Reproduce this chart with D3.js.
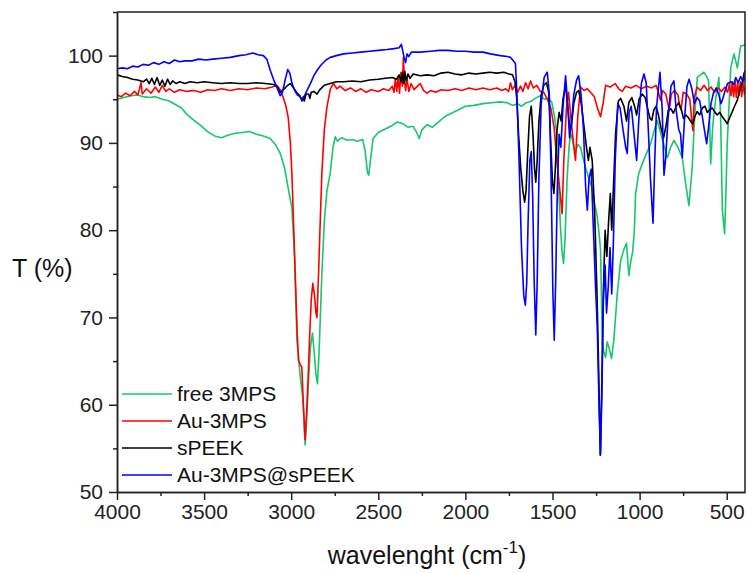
<!DOCTYPE html>
<html>
<head>
<meta charset="utf-8">
<script src="https://cdn.jsdelivr.net/npm/d3@7"></script>
<style>
  body { margin: 0; background: #fff; }
  svg { display: block; font-family: "Liberation Sans", Arial, sans-serif; }
  .axis path, .axis line { stroke: #222; stroke-width: 1.5; }
  .axis text { fill: #222; font-size: 21px; }
</style>
</head>
<body>
<svg id="chart" width="748" height="573"></svg>
<script>
// FTIR spectra, [wavenumber (cm-1), T (%)]
var free3mps = [[4000,95.0],[3960,95.2],[3920,95.4],[3880,95.5],[3850,95.3],[3810,95.2],[3780,95.3],[3740,95.0],[3700,94.8],[3665,94.4],[3630,94.0],[3600,93.3],[3560,92.6],[3520,92.0],[3480,91.3],[3440,90.8],[3400,90.6],[3360,90.9],[3320,91.1],[3280,91.2],[3240,91.3],[3200,91.0],[3160,90.8],[3121,90.5],[3090,89.8],[3063,88.8],[3040,87.3],[3025,85.7],[3010,84.0],[2996,82.6],[2981,76.9],[2967,67.4],[2948,63.2],[2935,61.0],[2929,59.0],[2920,55.4],[2912,58],[2900,63],[2890,66.5],[2878,68.2],[2868,66],[2858,63.5],[2849,62.4],[2840,66],[2824,75],[2810,81],[2795,84.5],[2776,86.5],[2760,89.5],[2747,90.7],[2735,90.2],[2710,90.6],[2680,90.3],[2650,90.4],[2620,90.2],[2590,90.4],[2575,89],[2562,86.6],[2555,86.3],[2545,88],[2530,90.5],[2500,91.2],[2460,91.6],[2420,92.0],[2390,92.4],[2360,92.2],[2330,91.8],[2300,91.9],[2280,91.2],[2265,90.5],[2250,91.5],[2220,92.1],[2190,91.8],[2160,92.3],[2120,93.0],[2080,93.4],[2040,93.8],[2000,94.2],[1950,94.3],[1900,94.5],[1850,94.6],[1800,94.7],[1760,94.6],[1730,94.3],[1700,94.5],[1680,94.2],[1650,94.6],[1620,94.8],[1600,95.1],[1570,95.4],[1545,95.0],[1525,95.1],[1505,94.7],[1490,93.2],[1478,91.5],[1468,86],[1454,80.3],[1445,77.5],[1437,76.2],[1428,79],[1416,86],[1405,89.5],[1397,91.1],[1385,90.3],[1370,88.8],[1355,89.8],[1339,89.5],[1322,88],[1300,86.5],[1285,85.5],[1272,84.9],[1258,83],[1243,81.5],[1232,79.5],[1224,77.7],[1214,67],[1205,66],[1195,65.4],[1186,67.2],[1175,66.5],[1161,65.3],[1148,67.4],[1128,72.8],[1109,76.5],[1090,77.8],[1075,78.5],[1062,74.8],[1050,76.5],[1040,77.5],[1030,80],[1023,84.2],[1005,86.5],[985,87.6],[960,88.8],[937,89.9],[915,91.5],[899,92.6],[880,91.2],[862,89.9],[841,88.3],[822,89.5],[803,90.3],[780,89.5],[755,88.3],[736,85.4],[717,82.8],[698,87.2],[684,93],[669,97.5],[650,97.8],[631,98.1],[615,97.6],[604,97.1],[592,87.6],[580,92],[564,94.9],[545,97.5],[535,93],[525,82.3],[512,79.6],[505,84],[497,89.9],[485,95],[477,98.6],[458,100.2],[439,98.6],[420,101.1],[400,101.2],[391,101.4]];

var au3mps = [[4000,95.5],[3975,95.3],[3950,95.7],[3925,95.4],[3900,95.9],[3880,95.5],[3862,96.9],[3855,95.6],[3830,96.2],[3805,95.7],[3780,96.4],[3760,95.8],[3740,96.6],[3720,95.9],[3700,96.2],[3670,95.8],[3640,96.1],[3600,95.9],[3560,96.0],[3520,95.8],[3480,96.1],[3440,96.0],[3400,96.2],[3350,96.0],[3300,96.2],[3250,96.1],[3200,96.3],[3150,96.2],[3110,96.4],[3082,96.6],[3060,96.0],[3046,95.2],[3030,94.2],[3017,92.9],[3005,90],[2996,86.5],[2985,80],[2977,75],[2965,68],[2958,65.1],[2948,64.6],[2939,64.3],[2930,60],[2920,56],[2912,59],[2903,63],[2895,67.4],[2885,72],[2876,73.9],[2866,72.5],[2858,70.5],[2852,70],[2843,75],[2835,80],[2824,86.5],[2810,91.5],[2795,94.1],[2775,96.2],[2757,96.8],[2738,96.2],[2720,96.5],[2690,96.0],[2660,96.3],[2630,95.9],[2600,96.2],[2570,95.8],[2540,96.1],[2500,95.9],[2470,96.2],[2440,96.0],[2420,96.5],[2410,95.8],[2402,97.3],[2394,95.9],[2386,97.6],[2378,95.7],[2370,98.1],[2362,96.5],[2356,99.8],[2350,97.2],[2343,96.0],[2335,97.4],[2325,95.9],[2312,96.8],[2295,96.1],[2275,96.5],[2259,96.8],[2240,96.0],[2220,95.7],[2200,96.0],[2170,95.8],[2140,96.1],[2100,96.0],[2060,96.2],[2020,96.0],[1980,96.3],[1940,96.1],[1900,96.3],[1860,96.1],[1820,96.3],[1790,96.0],[1770,96.2],[1752,95.9],[1741,96.9],[1730,96.1],[1715,96.6],[1700,95.8],[1684,96.5],[1670,95.9],[1655,96.9],[1640,96.2],[1626,97.1],[1610,96.3],[1590,96.6],[1570,95.9],[1550,95.8],[1530,95.0],[1510,94.0],[1491,91.8],[1475,88],[1460,85],[1445,81.9],[1435,88],[1420,94],[1408,95.8],[1395,93],[1380,90],[1368,88],[1355,93],[1339,96.4],[1320,96.0],[1300,96.2],[1282,95.8],[1260,95.3],[1242,94.0],[1224,93.0],[1210,94.5],[1195,96.6],[1170,96.4],[1140,96.8],[1120,96.2],[1100,95.9],[1080,96.5],[1050,96.3],[1020,96.6],[990,96.2],[960,96.5],[930,96.3],[905,96.6],[890,95.6],[880,94.9],[868,96.0],[850,95.6],[838,94.5],[830,93.7],[818,95.6],[800,96.0],[780,95.5],[770,94.2],[762,93.8],[750,95.8],[730,95.6],[712,95.0],[700,92.5],[694,91.4],[686,95.2],[670,96.4],[650,96.0],[630,96.6],[610,96.0],[590,96.4],[570,95.8],[550,96.3],[530,95.9],[510,96.4],[495,95.8],[485,96.7],[475,95.4],[468,97.0],[460,95.3],[452,97.1],[445,95.2],[437,96.9],[430,95.4],[422,97.0],[414,95.3],[406,96.8],[398,95.6],[391,96.5]];

var speek = [[4000,97.8],[3970,97.6],[3940,97.5],[3910,97.3],[3880,97.2],[3850,97.0],[3830,97.3],[3815,96.8],[3800,97.4],[3785,96.7],[3770,97.5],[3755,96.6],[3740,97.2],[3725,96.5],[3710,97.3],[3695,96.7],[3680,97.1],[3660,96.8],[3640,97.0],[3610,96.8],[3580,97.0],[3540,96.9],[3500,97.0],[3450,96.9],[3400,96.8],[3350,96.9],[3300,96.8],[3250,96.8],[3200,96.9],[3150,96.8],[3100,96.7],[3080,96.4],[3063,95.8],[3045,96.1],[3020,96.6],[3006,96.8],[2990,96.4],[2970,95.8],[2950,95.4],[2938,94.8],[2930,95.3],[2925,94.8],[2915,95.6],[2900,95.6],[2893,95.1],[2885,95.8],[2870,95.9],[2852,95.6],[2835,96.1],[2810,96.6],[2776,96.8],[2740,97.0],[2700,97.0],[2650,97.1],[2600,97.0],[2550,97.2],[2500,97.3],[2460,97.4],[2420,97.5],[2395,97.3],[2380,97.8],[2370,97.0],[2362,98.1],[2355,96.8],[2348,98.2],[2340,97.1],[2330,97.9],[2318,97.4],[2300,97.9],[2260,97.7],[2220,97.8],[2180,97.7],[2140,98.0],[2100,98.1],[2060,97.9],[2020,97.8],[1980,98.0],[1940,97.9],[1900,98.0],[1860,98.1],[1820,98.0],[1780,98.1],[1750,97.9],[1730,97.8],[1715,97.0],[1705,95],[1695,91],[1682,87],[1670,84.5],[1660,83.2],[1652,84.5],[1642,89],[1632,93],[1622,94.2],[1612,91],[1603,87],[1596,85.5],[1588,88],[1578,92.5],[1565,95.5],[1550,96.6],[1535,96.9],[1522,95.8],[1510,90],[1500,85.5],[1492,84.2],[1484,87],[1474,91.5],[1462,93.5],[1450,92.5],[1440,95],[1425,96.6],[1412,94],[1400,91.5],[1390,92.2],[1378,94.5],[1362,95.8],[1350,96.0],[1335,94.5],[1320,92],[1305,89.5],[1294,88],[1285,89.5],[1272,88],[1258,82],[1245,73],[1235,64],[1226,54.2],[1218,61],[1208,73],[1198,80],[1188,77],[1178,81],[1168,84.2],[1160,80],[1150,85],[1138,91],[1122,94.8],[1109,95.1],[1090,94.2],[1075,92.5],[1062,94.6],[1045,95.2],[1030,94.3],[1017,93.2],[1003,95.0],[985,95.6],[968,95.2],[955,94.0],[940,92.8],[930,92.6],[918,93.8],[905,94.2],[892,93.2],[878,91.8],[862,90.6],[848,92.0],[835,93.8],[820,93.9],[806,93.4],[790,94.2],[775,94.6],[760,93.8],[748,92.8],[735,93.2],[720,92.9],[705,92.4],[695,92.2],[683,93.0],[670,93.6],[655,93.2],[640,94.0],[625,94.2],[611,93.5],[598,93.8],[583,94.0],[570,93.6],[555,93.2],[540,93.5],[525,93.0],[510,92.6],[497,92.2],[485,92.8],[470,93.5],[455,94.2],[439,94.9],[425,96.0],[410,97.0],[400,98.0],[391,98.4]];

var au3mpsSpeek = [[4000,98.5],[3970,98.6],[3940,98.5],[3910,98.8],[3880,98.7],[3850,99.0],[3820,98.9],[3790,99.2],[3760,99.0],[3730,99.3],[3700,99.1],[3670,99.5],[3640,99.3],[3610,99.4],[3570,99.4],[3530,99.6],[3490,99.5],[3450,99.6],[3400,99.7],[3350,99.8],[3300,100.0],[3260,100.1],[3220,100.3],[3190,100.1],[3160,100.0],[3140,99.6],[3120,98.3],[3100,97.2],[3085,96.5],[3063,95.4],[3050,95.8],[3035,97.2],[3020,98.4],[3008,98.0],[2995,96.8],[2980,96.0],[2965,95.5],[2950,95.3],[2935,94.9],[2925,95.3],[2910,96.0],[2890,96.8],[2870,97.7],[2852,98.3],[2830,98.9],[2800,99.5],[2776,99.8],[2740,100.0],[2700,100.2],[2650,100.3],[2600,100.4],[2550,100.5],[2500,100.6],[2450,100.7],[2410,100.8],[2380,100.9],[2368,101.3],[2360,100.6],[2350,99.6],[2343,99.2],[2335,100.2],[2325,99.9],[2310,100.4],[2259,100.4],[2200,100.5],[2150,100.6],[2100,100.6],[2050,100.5],[2000,100.5],[1950,100.4],[1900,100.4],[1856,100.2],[1800,100.0],[1760,99.9],[1741,99.8],[1725,99.4],[1713,99.1],[1705,96],[1692,88],[1678,78],[1665,72.5],[1656,71.4],[1648,74],[1640,81],[1630,88],[1622,89],[1614,84],[1605,74],[1596,68],[1588,74],[1578,86],[1565,94.5],[1548,97.5],[1530,98.1],[1518,95.5],[1508,86],[1498,73],[1490,67.4],[1482,74],[1472,85],[1462,91],[1452,89.5],[1440,94],[1425,97.7],[1413,94.5],[1402,90.6],[1390,92.6],[1378,95.5],[1362,97.2],[1350,97.7],[1336,95.5],[1322,91.5],[1310,85],[1300,82.3],[1290,86],[1278,87],[1265,80],[1252,73],[1243,68.9],[1233,60],[1224,54.3],[1216,62],[1208,72],[1198,76],[1190,70.5],[1180,73.5],[1170,78],[1160,72.7],[1150,79],[1140,88],[1125,94.5],[1112,94.0],[1095,91.5],[1080,89.5],[1071,88.8],[1060,93.5],[1048,94.2],[1032,91],[1017,88.0],[1005,92.5],[990,96.8],[975,97.9],[962,96.9],[950,91.5],[938,86],[923,80.8],[913,88],[903,94],[883,98.1],[870,93.7],[860,86.3],[850,88.3],[838,92.5],[820,96.5],[803,97.1],[790,93.7],[775,91.5],[765,91],[755,88.3],[743,92.5],[728,96.5],[716,97.3],[700,96.2],[685,94.5],[670,95.2],[655,94.8],[640,93.0],[628,91.5],[615,89.9],[603,92.0],[590,94.5],[575,95.8],[560,96.3],[545,95.5],[533,94.5],[525,94.9],[512,95.8],[495,96.8],[475,97.0],[460,96.7],[448,97.5],[435,96.9],[420,97.6],[405,97.0],[391,97.8]];

var seriesNames = ["free 3MPS", "Au-3MPS", "sPEEK", "Au-3MPS@sPEEK"];
var seriesColors = ["#17c76b", "#ff0000", "#000000", "#0000ff"];
var seriesData = [free3mps, au3mps, speek, au3mpsSpeek];

var xMajor = [4000, 3500, 3000, 2500, 2000, 1500, 1000, 500];
var xMinor = [3750, 3250, 2750, 2250, 1750, 1250, 750];
var yMajor = [50, 60, 70, 80, 90, 100];
var yMinor = [55, 65, 75, 85, 95, 105];

var svg = d3.select("#chart"),
    margin = {top: 12, right: 3, bottom: 81, left: 117},
    width = +svg.attr("width") - margin.left - margin.right,
    height = +svg.attr("height") - margin.top - margin.bottom,
    g = svg.append("g").attr("transform", "translate(" + margin.left + "," + margin.top + ")");

var x = d3.scaleLinear().domain([4000, 395]).range([0, width]);
var y = d3.scaleLinear().domain([50, 105]).range([height, 0]);

g.append("clipPath").attr("id", "plotclip")
  .append("rect").attr("width", width).attr("height", height);

var line = d3.line()
    .x(function(d) { return x(d[0]); })
    .y(function(d) { return y(d[1]); });

// draw order: green, red, black, blue on top
g.append("g")
    .attr("clip-path", "url(#plotclip)")
  .selectAll("path")
  .data(seriesData)
  .enter().append("path")
    .attr("d", line)
    .attr("fill", "none")
    .attr("stroke", function(d, i) { return seriesColors[i]; })
    .attr("stroke-width", 1.6)
    .attr("stroke-linejoin", "round");

// axes
g.append("g").attr("class", "axis")
    .attr("transform", "translate(0," + height + ")")
    .call(d3.axisBottom(x).tickValues(xMajor).tickSize(8).tickPadding(4)
      .tickFormat(d3.format("d")).tickSizeOuter(0));
g.append("g").attr("class", "axis")
    .attr("transform", "translate(0," + height + ")")
    .call(d3.axisBottom(x).tickValues(xMinor).tickSize(4).tickFormat("").tickSizeOuter(0));
g.append("g").attr("class", "axis")
    .call(d3.axisLeft(y).tickValues(yMajor).tickSize(8).tickPadding(6)
      .tickFormat(d3.format("d")).tickSizeOuter(0));
g.append("g").attr("class", "axis")
    .call(d3.axisLeft(y).tickValues(yMinor).tickSize(4).tickFormat("").tickSizeOuter(0));

// frame top + right
g.append("path")
    .attr("d", "M0,0H" + width + "V" + height)
    .attr("fill", "none")
    .attr("stroke", "#222")
    .attr("stroke-width", 1.5);

// axis titles
svg.append("text")
    .attr("x", 12).attr("y", 277)
    .attr("font-size", 25).attr("fill", "#111")
    .text("T (%)");

var xt = svg.append("text")
    .attr("x", margin.left + width / 2 - 4).attr("y", 564)
    .attr("text-anchor", "middle")
    .attr("font-size", 25).attr("fill", "#111");
xt.append("tspan").text("wavelenght (cm");
xt.append("tspan").attr("font-size", 17).attr("dy", -11).text("-1");
xt.append("tspan").attr("dy", 11).text(")");

// legend
var leg = g.append("g").selectAll("g")
  .data(seriesNames)
  .enter().append("g")
    .attr("transform", function(d, i) { return "translate(5," + (382 + i * 27) + ")"; });
leg.append("line")
    .attr("x1", 0).attr("x2", 50)
    .attr("stroke", function(d, i) { return seriesColors[i]; })
    .attr("stroke-width", 1.6);
leg.append("text")
    .attr("x", 55).attr("y", 7)
    .attr("font-size", 21).attr("fill", "#111")
    .text(function(d) { return d; });
</script>
</body>
</html>
